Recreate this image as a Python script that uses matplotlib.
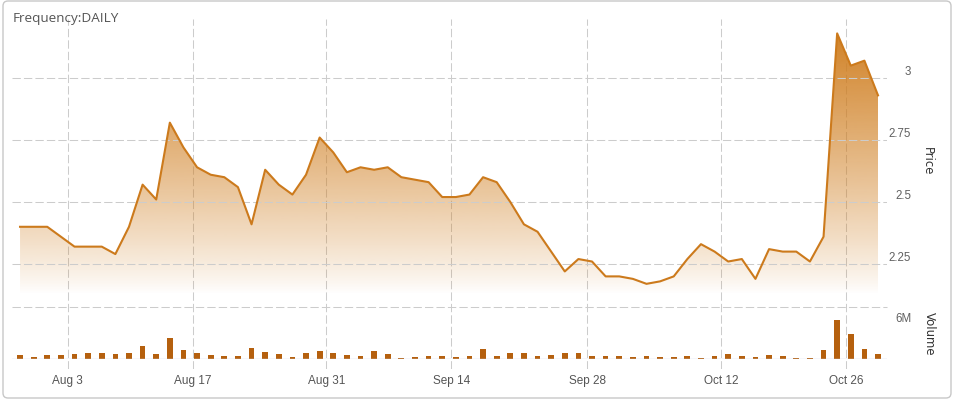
import numpy as np
import pandas as pd
import matplotlib
matplotlib.use('Agg')
import matplotlib.pyplot as plt
import matplotlib.transforms as mtransforms
from matplotlib.patches import FancyBboxPatch

# trading days (TSX calendar, Jul 29 - Oct 29 2014)
holidays = ['2014-08-04', '2014-09-01', '2014-10-13']
dates = pd.bdate_range('2014-07-29', '2014-10-29')
dates = dates[~dates.isin(pd.to_datetime(holidays))]

price = [2.40, 2.40, 2.40, 2.36, 2.32, 2.32, 2.32, 2.29, 2.40, 2.57,
         2.51, 2.82, 2.72, 2.64, 2.61, 2.60, 2.56, 2.41, 2.63, 2.57,
         2.53, 2.61, 2.76, 2.70, 2.62, 2.64, 2.63, 2.64, 2.60, 2.59,
         2.58, 2.52, 2.52, 2.53, 2.60, 2.58, 2.50, 2.41, 2.38, 2.30,
         2.22, 2.27, 2.26, 2.20, 2.20, 2.19, 2.17, 2.18, 2.20, 2.27,
         2.33, 2.30, 2.26, 2.27, 2.19, 2.31, 2.30, 2.30, 2.26, 2.36,
         3.18, 3.05, 3.07, 2.93]

# volume in millions
volume = [0.71, 0.35, 0.71, 0.71, 0.88, 1.06, 1.06, 0.88, 1.06, 2.29,
          0.88, 3.71, 1.59, 1.06, 0.71, 0.53, 0.53, 1.94, 1.24, 0.88,
          0.35, 1.06, 1.41, 1.06, 0.71, 0.53, 1.41, 0.88, 0.18, 0.35,
          0.53, 0.53, 0.35, 0.53, 1.76, 0.53, 1.06, 1.06, 0.53, 0.71,
          1.06, 1.06, 0.53, 0.53, 0.53, 0.35, 0.53, 0.35, 0.35, 0.53,
          0.18, 0.53, 0.88, 0.53, 0.35, 0.71, 0.53, 0.18, 0.18, 1.59,
          6.88, 4.41, 1.76, 0.88]

tick_dates = pd.to_datetime(['2014-08-03', '2014-08-17', '2014-08-31', '2014-09-14',
                             '2014-09-28', '2014-10-12', '2014-10-26'])
tick_labels = ['Aug 3', 'Aug 17', 'Aug 31', 'Sep 14', 'Sep 28', 'Oct 12', 'Oct 26']
price_ticks = [2.25, 2.5, 2.75, 3.0]
price_tick_labels = ['2.25', '2.5', '2.75', '3']

idx = np.arange(len(dates))
tick_pos = np.interp(tick_dates.asi8, dates.asi8, idx)

W, H = 956, 406
fig = plt.figure(figsize=(W / 100, H / 100), dpi=100)


def box(x0, y0, x1, y1):
    return [x0 / W, 1 - y1 / H, (x1 - x0) / W, (y1 - y0) / H]


grid_kw = dict(color='#cccccc', lw=0.75, linestyle=(0, (8, 3)))
line_col = '#cc7a1c'
bar_col = '#b5600e'
xlim = (-0.59, 63.66)
p_lo, p_hi = 2.129, 3.238

# outer frame
frame = FancyBboxPatch((0.03, 0.07), 9.48, 3.97, boxstyle='round,pad=0,rounding_size=0.05',
                       transform=fig.dpi_scale_trans, ec='#c8c8c8', fc='white', lw=1, zorder=-1)
fig.patches.append(frame)

# background axes: vertical grid + date labels
bg = fig.add_axes(box(12, 20, 887, 370))
bg.patch.set_visible(False)
bg.set_xlim(xlim)
bg.set_ylim(0, 1)
bg.set_yticks([])
bg.set_xticks(tick_pos)
bg.set_xticklabels(tick_labels, family='Liberation Sans', fontsize=8.5, color='#555555')
bg.tick_params(axis='x', length=0, pad=3.5)
bg.grid(axis='x', **grid_kw)
for s in bg.spines.values():
    s.set_visible(False)

# price pane
pax = fig.add_axes(box(12, 20, 887, 295))
pax.patch.set_visible(False)
poly = pax.fill_between(idx, price, p_lo, color='none', lw=0)
grad = np.zeros((256, 1, 4))
grad[:, 0, 0] = 207 / 255
grad[:, 0, 1] = 125 / 255
grad[:, 0, 2] = 30 / 255
grad[:, 0, 3] = np.linspace(1, 0, 256) ** 0.85
img = pax.imshow(grad, extent=[idx[0], idx[-1], p_lo, p_hi], aspect='auto',
                 origin='upper', interpolation='bilinear', zorder=1)
img.set_clip_path(poly.get_paths()[0], transform=pax.transData)
pax.plot(idx, price, color=line_col, lw=1.5, zorder=3, solid_joinstyle='round')
pax.set_xlim(xlim)
pax.set_ylim(p_lo, p_hi)
pax.set_yticks(price_ticks)
pax.set_xticks([])
pax.tick_params(axis='y', length=0, labelleft=False)
pax.grid(axis='y', **grid_kw)
for s in pax.spines.values():
    s.set_visible(False)

lift = mtransforms.ScaledTranslation(0, 7 / 100, fig.dpi_scale_trans)
ptrans = mtransforms.blended_transform_factory(pax.transAxes, pax.transData) + lift
for v, lbl in zip(price_ticks, price_tick_labels):
    pax.text((911 - 12) / 875, v, lbl, transform=ptrans, ha='right', va='center',
             family='Liberation Sans', fontsize=8.3, color='#606060')

# volume pane
vax = fig.add_axes(box(12, 308, 887, 360))
vax.patch.set_visible(False)
vax.bar(idx, volume, width=0.42, color=bar_col, zorder=2)
vax.set_xlim(xlim)
vax.set_ylim(0, 9.18)
vax.axhline(9.18, clip_on=False, zorder=1, **grid_kw)
vax.axhline(0, color='#ccd6eb', lw=1, zorder=3)
vax.set_xticks([])
vax.set_yticks([])
for s in vax.spines.values():
    s.set_visible(False)
vtrans = mtransforms.blended_transform_factory(vax.transAxes, vax.transData) + lift
vax.text((912 - 12) / 875, 6, '6M', transform=vtrans, ha='right', va='center',
         family='Liberation Sans', fontsize=8.3, color='#606060')

fig.text(927 / W, 1 - 161 / H, 'Price', rotation=270, ha='center', va='center',
         family='DejaVu Sans', fontsize=8.4, color='#333333')
fig.text(929 / W, 1 - 334 / H, 'Volume', rotation=270, ha='center', va='center',
         family='DejaVu Sans', fontsize=8.4, color='#333333')
fig.text(13 / W, 1 - 21.7 / H, 'Frequency:DAILY', ha='left', va='baseline',
         family='Open Sans', fontsize=9.7, color='#555555')

fig.savefig('out.png', dpi=100)
